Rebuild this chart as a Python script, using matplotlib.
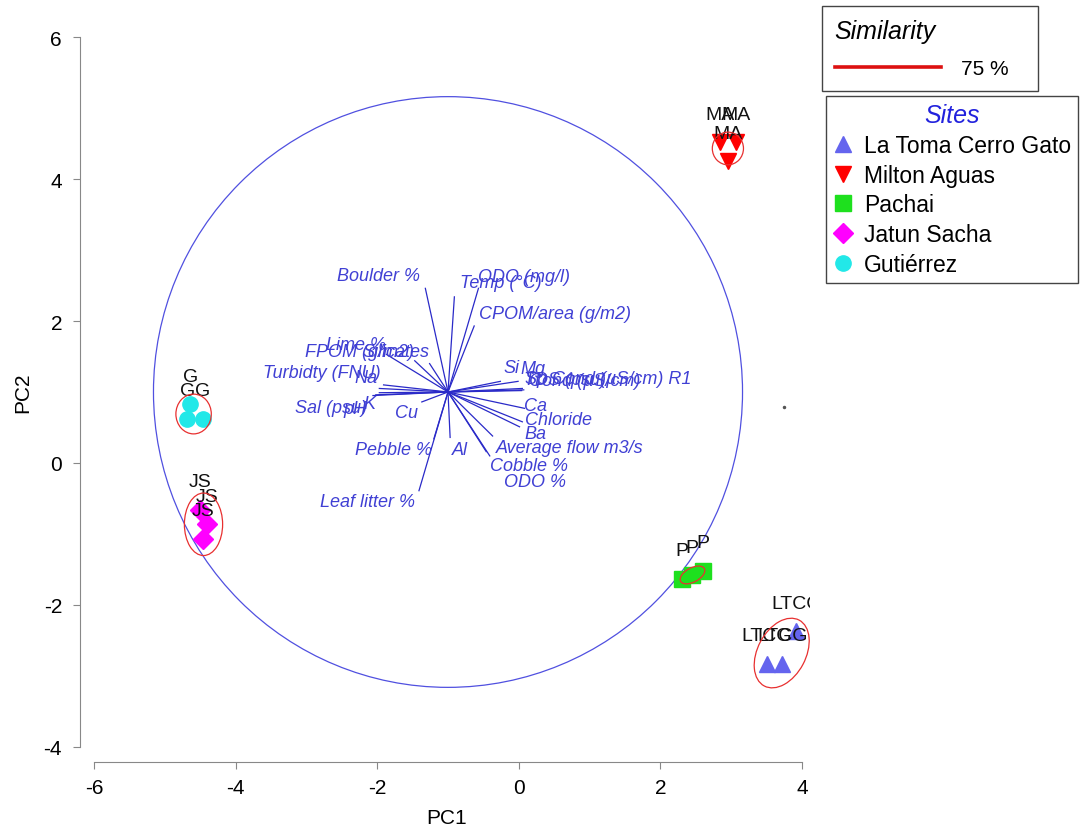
import numpy as np
import matplotlib
matplotlib.use("Agg")
import matplotlib.pyplot as plt
from matplotlib.patches import Circle, Ellipse
from matplotlib.lines import Line2D

plt.rcParams['font.family'] = ['Liberation Sans', 'DejaVu Sans']
plt.rcParams['axes.unicode_minus'] = False

# ---------- site scores (PC1, PC2) ----------
site_names = ["La Toma Cerro Gato", "Milton Aguas", "Pachai", "Jatun Sacha", "Gutiérrez"]
site_codes = ["LTCG", "MA", "P", "JS", "G"]
ltcg_x = [3.50, 3.72, 3.92]
ltcg_y = [-2.83, -2.83, -2.37]
ma_x = [2.84, 3.07, 2.95]
ma_y = [4.52, 4.52, 4.25]
p_x = [2.31, 2.45, 2.60]
p_y = [-1.63, -1.58, -1.52]
js_x = [-4.50, -4.40, -4.46]
js_y = [-0.66, -0.86, -1.07]
g_x = [-4.64, -4.68, -4.46]
g_y = [0.83, 0.62, 0.62]
stray_x = [3.74]
stray_y = [0.79]

# ---------- environmental vectors (from the biplot origin) ----------
vec_origin = (-1.0, 1.0)
circle_r = 4.16
vec_names = ["Boulder %", "Temp (°C)", "ODO (mg/l)", "CPOM/area (g/m2)",
             "Lime %", "FPOM (g/m2)", "Silicates", "Turbidty (FNU)", "Na",
             "Sal (psu)", "pH", "K", "Cu", "Pebble %", "Leaf litter %", "Al",
             "Average flow m3/s", "Cobble %", "ODO %", "Ba", "Chloride", "Ca",
             "Sp Cond (µS/cm) R1", "Cond (µS/cm)", "TDS (psu)", "Si", "Mg"]
vec_dx = [-0.32, 0.09, 0.43, 0.37,
          -0.87, -0.47, -0.26, -0.91, -0.97,
          -1.06, -1.02, -0.97, -0.37, -0.20, -0.41, 0.03,
          0.63, 0.59, 0.54, 1.01, 1.05, 1.08,
          1.05, 1.07, 1.04, 0.74, 0.99]
vec_dy = [1.46, 1.34, 1.46, 0.93,
          0.53, 0.44, 0.40, 0.10, 0.05,
          -0.05, -0.04, -0.01, -0.14, -0.66, -1.39, -0.64,
          -0.62, -0.90, -0.84, -0.49, -0.42, -0.23,
          0.05, 0.03, 0.02, 0.15, 0.15]

# label placement next to each vector tip: (offset px right, offset px up, alignment)
vec_label_pos = [(-5, 13, 'right'), (6, 14, 'left'), (0, 12, 'left'), (5, 12, 'left'),
                 (0, 10, 'right'), (-1, 9, 'right'), (0, 12, 'right'), (-3, 12, 'right'), (-2, 11, 'right'),
                 (-6, -12, 'right'), (-9, -14, 'right'), (-4, -11, 'right'), (-4, -11, 'right'),
                 (-2, -11, 'right'), (-4, -11, 'right'), (2, -12, 'left'),
                 (3, -11, 'left'), (0, -10, 'left'), (18, -30, 'left'), (5, -7, 'left'),
                 (3, 2, 'left'), (0, 3, 'left'),
                 (3, 10, 'left'), (5, 9, 'left'), (2, 11, 'left'), (3, 14, 'left'), (2, 13, 'left')]

# cluster outlines at 75 % similarity: width, height, angle
ell_size = [(1.05, 0.68, 62), (0.44, 0.46, 0), (0.38, 0.20, 28), (0.54, 0.88, 0), (0.50, 0.56, 0)]

fig = plt.figure(figsize=(10.83, 8.28), dpi=100)
ax = fig.add_axes([94 / 1083, 80 / 828, 716 / 1083, 710 / 828])
ax.set_xlim(-6, 4.113)
ax.set_ylim(-4, 6)

vec_col = '#2a2ac8'
lab_col = '#4040d4'

# correlation circle and vectors
ax.add_patch(Circle(vec_origin, circle_r, fill=False, ec='#5050e0', lw=0.9))
x0, y0 = vec_origin
for name, dx, dy, (ox, oy, ha) in zip(vec_names, vec_dx, vec_dy, vec_label_pos):
    ax.plot([x0, x0 + dx], [y0, y0 + dy], color=vec_col, lw=0.9)
    ax.annotate(name, xy=(x0 + dx, y0 + dy), xytext=(ox, oy), textcoords='offset pixels',
                ha=ha, va='center', fontsize=13, style='italic', color=lab_col)

# sites
sites = [(ltcg_x, ltcg_y, '^', '#6464ee', 12),
         (ma_x, ma_y, 'v', '#ff0000', 12),
         (p_x, p_y, 's', '#1ee01e', 11),
         (js_x, js_y, 'D', '#ff00ff', 10),
         (g_x, g_y, 'o', '#22e8e8', 11)]
handles = []
for (xs, ys, m, c, ms), code, name, (w, h, ang) in zip(sites, site_codes, site_names, ell_size):
    ax.plot(xs, ys, ls='none', marker=m, color=c, ms=ms, zorder=3)
    for x, y in zip(xs, ys):
        ax.annotate(code, xy=(x, y), xytext=(0, 28), textcoords='offset pixels',
                    ha='center', va='center', fontsize=14, color='#111111',
                    annotation_clip=True, clip_on=True, zorder=4)
    ax.add_patch(Ellipse((np.mean(xs), np.mean(ys)), w, h, angle=ang,
                         fill=False, ec='#e83030', lw=0.9, zorder=4))
    handles.append(Line2D([], [], ls='none', marker=m, color=c, ms=ms, label=name))

ax.plot(stray_x, stray_y, ls='none', marker='o', ms=1.5, color='#555555')

# axes in the detached style
for s in ['top', 'right']:
    ax.spines[s].set_visible(False)
ax.spines['left'].set_position(('outward', 10))
ax.spines['bottom'].set_position(('outward', 11))
ax.spines['left'].set_bounds(-4, 6)
ax.spines['bottom'].set_bounds(-6, 4)
for s in ['left', 'bottom']:
    ax.spines[s].set_color('#888888')
ax.set_xticks([-6, -4, -2, 0, 2, 4])
ax.set_yticks([-4, -2, 0, 2, 4, 6])
ax.tick_params(colors='#888888', labelcolor='black', labelsize=15, length=5)
ax.tick_params(axis='y', pad=8)
ax.tick_params(axis='x', pad=6)
ax.set_xlabel('PC1', fontsize=15, va='center')
ax.set_ylabel('PC2', fontsize=15, va='center')
ax.xaxis.set_label_coords(0.493, -0.0986)
ax.yaxis.set_label_coords(-0.1, 0.5)

# legends
leg1 = fig.legend(handles=[Line2D([], [], color='#dd1111', lw=2.6)], labels=['75 %   '],
                  loc='upper left', bbox_to_anchor=(822 / 1083, 1 - 7 / 828),
                  title='Similarity', alignment='left', fontsize=15,
                  handlelength=5.1, handletextpad=0.95, labelspacing=0.8,
                  borderpad=0.6, borderaxespad=0,
                  fancybox=False, edgecolor='#444444', framealpha=1)
leg1.get_title().set_fontsize(18)
leg1.get_title().set_style('italic')
leg1.get_frame().set_linewidth(1)

leg2 = fig.legend(handles=handles, loc='upper left', bbox_to_anchor=(826 / 1083, 1 - 97 / 828),
                  title='Sites', fontsize=16.5, handlelength=0.9, handletextpad=0.45,
                  labelspacing=0.3, borderpad=0.3, borderaxespad=0,
                  fancybox=False, edgecolor='#444444', framealpha=1)
leg2.get_title().set_fontsize(18)
leg2.get_title().set_style('italic')
leg2.get_title().set_color('#2222dd')
leg2.get_frame().set_linewidth(1)

fig.savefig('out.png', dpi=100)
